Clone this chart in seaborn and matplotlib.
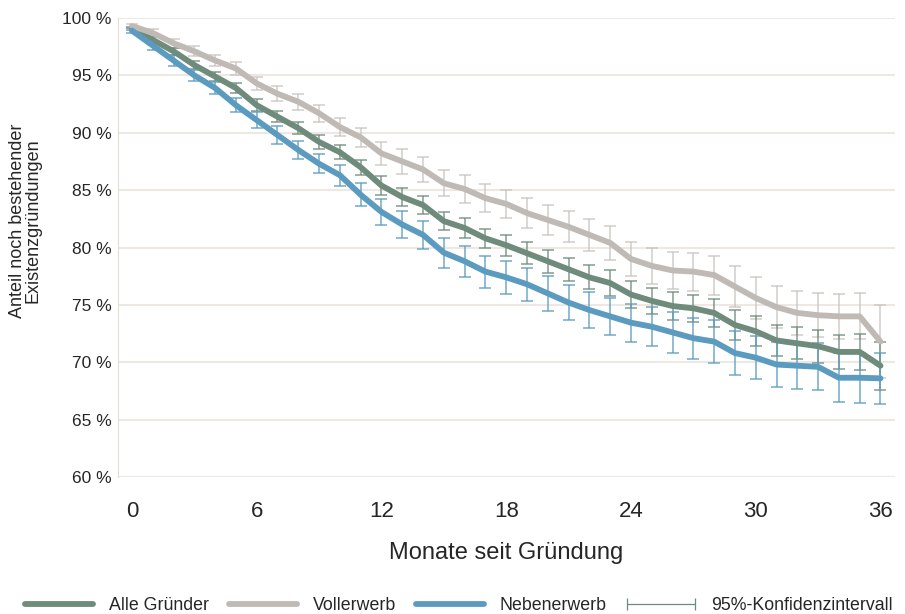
import numpy as np
import pandas as pd
import seaborn as sns
import matplotlib.pyplot as plt
from matplotlib.lines import Line2D

# months since founding
monate = list(range(0, 37))

# survival share in percent
alle = [99.1, 98.1, 97.1, 95.9, 94.9, 93.9, 92.4, 91.4, 90.4, 89.2, 88.3, 87.0, 85.4,
        84.4, 83.7, 82.3, 81.7, 80.8, 80.2, 79.5, 78.8, 78.1, 77.4, 76.9, 75.9,
        75.35, 74.9, 74.7, 74.3, 73.25, 72.7, 71.9, 71.65, 71.4, 70.9, 70.9, 69.7]
voll = [99.3, 98.7, 97.8, 97.1, 96.3, 95.6, 94.3, 93.4, 92.7, 91.7, 90.5, 89.6, 88.2,
        87.5, 86.8, 85.6, 85.1, 84.3, 83.8, 83.0, 82.4, 81.8, 81.1, 80.4, 79.0,
        78.4, 78.0, 77.9, 77.6, 76.6, 75.6, 74.8, 74.3, 74.1, 74.0, 74.0, 71.8]
neben = [98.9, 97.6, 96.3, 95.0, 93.9, 92.4, 91.1, 89.8, 88.5, 87.3, 86.3, 84.6, 83.1,
         82.0, 81.1, 79.55, 78.8, 77.9, 77.4, 76.8, 76.0, 75.2, 74.55, 74.0, 73.45,
         73.1, 72.6, 72.1, 71.8, 70.8, 70.4, 69.8, 69.7, 69.6, 68.65, 68.65, 68.6]

# half widths of the 95% confidence intervals
ci_alle = [0.15, 0.25, 0.3, 0.35, 0.4, 0.45, 0.5, 0.5, 0.55, 0.6, 0.6, 0.65, 0.8,
           0.75, 0.8, 0.8, 0.85, 0.85, 0.9, 0.95, 1.0, 1.0, 1.05, 1.1, 1.15,
           1.15, 1.2, 1.2, 1.25, 1.3, 1.3, 1.35, 1.4, 1.45, 1.5, 1.55, 2.1]
ci_voll = [0.2, 0.3, 0.4, 0.45, 0.5, 0.55, 0.6, 0.65, 0.7, 0.75, 0.8, 0.85, 1.0,
           1.1, 1.1, 1.15, 1.2, 1.2, 1.25, 1.3, 1.3, 1.35, 1.4, 1.45, 1.5,
           1.6, 1.6, 1.65, 1.7, 1.75, 1.8, 1.85, 1.9, 1.9, 1.95, 2.0, 3.2]
ci_neben = [0.25, 0.4, 0.45, 0.5, 0.55, 0.6, 0.7, 0.75, 0.8, 0.85, 0.9, 1.0, 1.15,
            1.2, 1.25, 1.3, 1.35, 1.4, 1.45, 1.45, 1.5, 1.55, 1.6, 1.6, 1.65,
            1.7, 1.75, 1.8, 1.85, 1.9, 1.9, 1.95, 2.0, 2.05, 2.15, 2.2, 2.2]

gruppen = ["Alle Gründer", "Vollerwerb", "Nebenerwerb"]
farben = {"Alle Gründer": "#6E8B7C", "Vollerwerb": "#C0BAB6", "Nebenerwerb": "#5B9BC0"}
bar_farben = {"Alle Gründer": "#6E8B7C", "Vollerwerb": "#C9C4C0", "Nebenerwerb": "#5B9BC0"}

df = pd.DataFrame({
    "Monat": monate * 3,
    "Anteil": alle + voll + neben,
    "ci": ci_alle + ci_voll + ci_neben,
    "Gruppe": sum([[g] * len(monate) for g in gruppen], []),
})

sns.set_style("whitegrid", {"grid.color": "#EDE8E4", "axes.edgecolor": "#E2DDD9"})
plt.rcParams["font.family"] = ["Liberation Sans", "DejaVu Sans"]

fig = plt.figure(figsize=(9.05, 6.14), dpi=100)
ax = fig.add_axes([0.1304, 0.2231, 0.8586, 0.7476])

# confidence intervals first, lines on top
for g in ["Vollerwerb", "Alle Gründer", "Nebenerwerb"]:
    d = df[df["Gruppe"] == g]
    ax.errorbar(d["Monat"], d["Anteil"], yerr=d["ci"], fmt="none",
                ecolor=bar_farben[g], elinewidth=1.1, capsize=4, capthick=1.1,
                alpha=0.85, zorder=2)

sns.lineplot(data=df, x="Monat", y="Anteil", hue="Gruppe", hue_order=gruppen,
             palette=farben, linewidth=4.2, ax=ax, legend=False, zorder=3)

ax.set_xlim(-0.67, 36.7)
ax.set_ylim(60, 100)
ax.set_xticks([0, 6, 12, 18, 24, 30, 36])
ax.set_yticks(np.arange(60, 101, 5))
ax.set_yticklabels([f"{v} %" for v in range(60, 101, 5)], fontsize=12.5)
ax.tick_params(axis="x", labelsize=16, pad=14)
ax.tick_params(axis="y", pad=1)
ax.grid(axis="x", visible=False)
ax.grid(axis="y", color="#EDE8E4", linewidth=1.5)
for s in ["top", "right"]:
    ax.spines[s].set_visible(False)
ax.spines["bottom"].set_visible(False)
ax.spines["left"].set_color("#E2DDD9")

ax.set_xlabel("Monate seit Gründung", fontsize=17, labelpad=14)
ax.set_ylabel("Anteil noch bestehender\nExistenzgründungen", fontsize=13,
              linespacing=0.9)
ax.yaxis.set_label_coords(-0.098, 0.558)

handles = [Line2D([], [], color=farben[g], linewidth=4.2) for g in gruppen]
handles.append(Line2D([], [], color="#6E8B7C", linewidth=0.9, marker="|",
                      markersize=9, markeredgewidth=0.9))
fig.legend(handles, gruppen + ["95%-Konfidenzintervall"], loc="center",
           bbox_to_anchor=(0.504, 0.014), ncol=4, frameon=False, fontsize=12.8,
           handlelength=4.4, handletextpad=0.6, columnspacing=0.85, numpoints=2,
           borderpad=0.2)

fig.savefig("out.png", dpi=100)
